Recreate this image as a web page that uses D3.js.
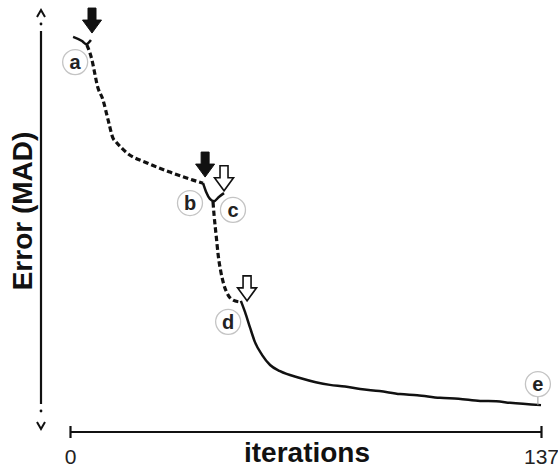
<!DOCTYPE html>
<html>
<head>
<meta charset="utf-8">
<script src="https://cdn.jsdelivr.net/npm/d3@7/dist/d3.min.js"></script>
<style>
  body { margin: 0; background: #fff; }
  text { font-family: "Liberation Sans", Arial, sans-serif; }
</style>
</head>
<body>
<svg id="chart" width="558" height="469"></svg>
<script>
// iteration, error (arbitrary MAD units)
var stageA = [[0.9, 98.2], [3.5, 97.1], [4.7, 96.3], [6.1, 97.4]];
var dashA = [[4.9, 96.1], [6.4, 92.1], [7.3, 88.2], [7.9, 85.6], [9.6, 81.7], [11.1, 76.4],
             [12.5, 71.7], [13.4, 70.7], [16.6, 67.8], [22.4, 65.2], [29.1, 62.8], [35.8, 60.7], [38.7, 59.9]];
var stageB = [[38.7, 59.9], [39.6, 57.6], [40.7, 55.8], [41.9, 55.2], [43.3, 56.3], [44.8, 57.3]];
var dashB = [[41.6, 55.0], [41.9, 51.6], [42.5, 46.3], [43.1, 41.1], [43.9, 36.6], [44.8, 33.2],
             [46.0, 30.6], [47.4, 29.3], [49.5, 28.8]];
var stageD = [[49.7, 29.1], [50.9, 26.2], [52.4, 22.0], [53.8, 18.3], [55.9, 14.9], [58.2, 12.3],
              [61.1, 10.7], [66.9, 8.9], [75.6, 7.1], [80.0, 6.7], [84.4, 6.0], [90.0, 5.5], [96.0, 4.7],
              [101.0, 4.4], [107.6, 3.7], [113.0, 3.5], [119.3, 2.9], [124.0, 2.8], [128.0, 2.4], [137, 1.8]];

var labels = ["a", "b", "c", "d", "e"];
var labelIter = [1.5, 34.9, 47.4, 46.0, 136.1];
var labelErr = [91.6, 54.7, 52.9, 23.6, 7.3];

var arrowIter = [6.4, 39.3, 44.8, 51.5];
var arrowErr = [99.2, 61.5, 57.9, 29.1];
var arrowFilled = [true, true, false, false];

var svg = d3.select("#chart");

var x = d3.scaleLinear().domain([0, 137]).range([70, 541]);
var y = d3.scaleLinear().domain([0, 100]).range([412, 30]);

var line = d3.line()
  .x(function(d){ return x(d[0]); })
  .y(function(d){ return y(d[1]); })
  .curve(d3.curveMonotoneX);

// y axis (no ticks, dotted arrow ends)
var ya = svg.append("g").attr("stroke", "#111").attr("fill", "none");
ya.append("line").attr("x1", 41).attr("x2", 41).attr("y1", 31).attr("y2", 404).attr("stroke-width", 2.2);
ya.append("path").attr("d", "M37,17L41,10L45,17").attr("stroke-width", 2);
ya.append("path").attr("d", "M37,422L41,429L45,422").attr("stroke-width", 2);
svg.append("circle").attr("cx", 41).attr("cy", 24).attr("r", 1.4).attr("fill", "#111");
svg.append("circle").attr("cx", 41).attr("cy", 411).attr("r", 1.4).attr("fill", "#111");

svg.append("text")
  .attr("transform", "translate(32,211) rotate(-90)")
  .attr("text-anchor", "middle")
  .attr("font-size", 28).attr("font-weight", "bold").attr("fill", "#111")
  .text("Error (MAD)");

// x axis
var xAxis = d3.axisBottom(x).tickValues([0, 137]).tickSize(6).tickPadding(11)
  .tickFormat(d3.format("d"));
var xg = svg.append("g").attr("transform", "translate(0,432)").call(xAxis);
xg.select(".domain").attr("d", "M70,0H541").attr("stroke", "#111").attr("stroke-width", 2.2);
xg.selectAll(".tick line").attr("y1", -6).attr("y2", 6).attr("stroke", "#111").attr("stroke-width", 2.2);
xg.selectAll(".tick text").attr("font-size", 21).attr("fill", "#222")
  .attr("font-family", "Liberation Sans, Arial, sans-serif");

svg.append("text")
  .attr("x", 307).attr("y", 462)
  .attr("text-anchor", "middle")
  .attr("font-size", 28).attr("font-weight", "bold").attr("fill", "#111")
  .text("iterations");

// curves
[dashA, dashB].forEach(function(d){
  svg.append("path").attr("d", line(d)).attr("fill", "none")
    .attr("stroke", "#111").attr("stroke-width", 3.2).attr("stroke-dasharray", "5.5,3");
});
[stageA, stageB, stageD].forEach(function(d){
  svg.append("path").attr("d", line(d)).attr("fill", "none")
    .attr("stroke", "#111").attr("stroke-width", 2.5);
});

// arrows
var arrowPath = "M0,0L-9.5,-13L-4,-13L-4,-25L4,-25L4,-13L9.5,-13Z";
arrowIter.forEach(function(it, i){
  svg.append("path")
    .attr("transform", "translate(" + x(it) + "," + y(arrowErr[i]) + ")")
    .attr("d", arrowPath)
    .attr("fill", arrowFilled[i] ? "#111" : "#fff")
    .attr("stroke", "#111").attr("stroke-width", arrowFilled[i] ? 1 : 1.6)
    .attr("stroke-linejoin", "miter");
});

// e connector
svg.append("line")
  .attr("x1", x(labelIter[4])).attr("x2", x(labelIter[4]))
  .attr("y1", y(labelErr[4]) + 12).attr("y2", y(1.8))
  .attr("stroke", "#999").attr("stroke-width", 1);

// circled labels
var lg = svg.selectAll("g.lab").data(labels).enter().append("g")
  .attr("class", "lab")
  .attr("transform", function(d, i){ return "translate(" + x(labelIter[i]) + "," + y(labelErr[i]) + ")"; });
lg.append("circle").attr("r", 12.5).attr("fill", "#fff").attr("stroke", "#c4c4c4").attr("stroke-width", 1.3);
lg.append("text").attr("text-anchor", "middle").attr("dy", 7)
  .attr("font-size", 20).attr("font-weight", "bold").attr("fill", "#222")
  .text(function(d){ return d; });
</script>
</body>
</html>
